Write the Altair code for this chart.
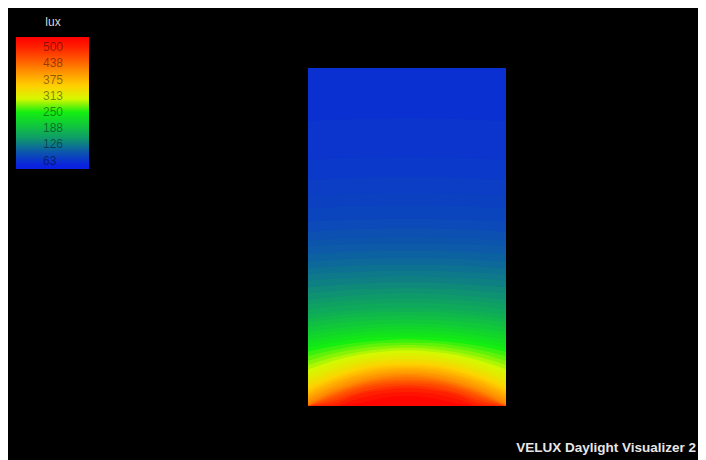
import altair as alt
import pandas as pd

# Isolux contours.
# Floor is 3.0 m wide and 5.1 m deep (0 = back wall at top, 5.1 = window wall at bottom).
contour_x_m = [0.0, 0.375, 0.75, 1.125, 1.5, 1.875, 2.25, 2.625, 3.0]
contour_lux = [60, 64, 68, 72, 76, 80, 85, 90, 95, 100, 106, 112, 118, 124, 130, 137, 144,
               151, 158, 166, 174, 182, 190, 200, 210, 220, 230, 240, 250, 260, 270, 280,
               290, 300, 310, 320, 332, 344, 356, 368, 380, 392, 405, 418, 431, 444, 457,
               470, 485, 500, 515, 530]
# depth (m) of each contour at the x positions above
contour_depth_m = [
    [0.00, 0.00, 0.00, 0.00, 0.00, 0.00, 0.00, 0.00, 0.00],
    [0.80, 0.78, 0.77, 0.76, 0.75, 0.76, 0.77, 0.78, 0.80],
    [1.39, 1.37, 1.35, 1.35, 1.34, 1.35, 1.35, 1.37, 1.39],
    [1.69, 1.67, 1.66, 1.65, 1.64, 1.65, 1.66, 1.67, 1.69],
    [1.93, 1.91, 1.90, 1.89, 1.89, 1.89, 1.90, 1.91, 1.93],
    [2.12, 2.10, 2.09, 2.08, 2.08, 2.08, 2.09, 2.10, 2.12],
    [2.32, 2.30, 2.29, 2.28, 2.28, 2.28, 2.29, 2.30, 2.32],
    [2.47, 2.45, 2.43, 2.42, 2.42, 2.42, 2.43, 2.45, 2.47],
    [2.60, 2.58, 2.57, 2.56, 2.55, 2.56, 2.57, 2.58, 2.60],
    [2.69, 2.67, 2.66, 2.65, 2.65, 2.65, 2.66, 2.67, 2.69],
    [2.81, 2.79, 2.77, 2.76, 2.76, 2.76, 2.77, 2.79, 2.81],
    [2.92, 2.90, 2.88, 2.87, 2.87, 2.87, 2.88, 2.90, 2.92],
    [3.03, 3.00, 2.98, 2.97, 2.97, 2.97, 2.98, 3.00, 3.03],
    [3.12, 3.09, 3.08, 3.06, 3.06, 3.06, 3.08, 3.09, 3.12],
    [3.21, 3.18, 3.16, 3.15, 3.14, 3.15, 3.16, 3.18, 3.21],
    [3.31, 3.28, 3.26, 3.24, 3.24, 3.24, 3.26, 3.28, 3.31],
    [3.40, 3.37, 3.34, 3.33, 3.32, 3.33, 3.34, 3.37, 3.40],
    [3.50, 3.46, 3.43, 3.41, 3.40, 3.41, 3.43, 3.46, 3.50],
    [3.57, 3.53, 3.50, 3.48, 3.48, 3.48, 3.50, 3.53, 3.57],
    [3.65, 3.60, 3.57, 3.55, 3.55, 3.55, 3.57, 3.60, 3.65],
    [3.72, 3.68, 3.65, 3.63, 3.62, 3.63, 3.65, 3.68, 3.72],
    [3.79, 3.74, 3.70, 3.68, 3.68, 3.68, 3.70, 3.74, 3.79],
    [3.84, 3.79, 3.76, 3.74, 3.73, 3.74, 3.76, 3.79, 3.84],
    [3.91, 3.86, 3.82, 3.80, 3.79, 3.80, 3.82, 3.86, 3.91],
    [3.98, 3.93, 3.89, 3.86, 3.85, 3.86, 3.89, 3.93, 3.98],
    [4.04, 3.98, 3.94, 3.91, 3.90, 3.91, 3.94, 3.98, 4.04],
    [4.10, 4.04, 3.99, 3.96, 3.95, 3.96, 3.99, 4.04, 4.10],
    [4.16, 4.09, 4.04, 4.01, 4.00, 4.01, 4.04, 4.09, 4.16],
    [4.22, 4.14, 4.09, 4.06, 4.05, 4.06, 4.09, 4.14, 4.22],
    [4.28, 4.20, 4.14, 4.11, 4.09, 4.11, 4.14, 4.20, 4.28],
    [4.35, 4.26, 4.19, 4.15, 4.14, 4.15, 4.19, 4.26, 4.35],
    [4.42, 4.31, 4.24, 4.20, 4.18, 4.20, 4.24, 4.31, 4.42],
    [4.48, 4.37, 4.29, 4.24, 4.22, 4.24, 4.29, 4.37, 4.48],
    [4.55, 4.42, 4.33, 4.28, 4.26, 4.28, 4.33, 4.42, 4.55],
    [4.61, 4.47, 4.38, 4.32, 4.30, 4.32, 4.38, 4.47, 4.61],
    [4.67, 4.53, 4.42, 4.36, 4.34, 4.36, 4.42, 4.53, 4.67],
    [4.73, 4.58, 4.47, 4.41, 4.39, 4.41, 4.47, 4.58, 4.73],
    [4.79, 4.64, 4.52, 4.45, 4.43, 4.45, 4.52, 4.64, 4.79],
    [4.84, 4.68, 4.56, 4.49, 4.47, 4.49, 4.56, 4.68, 4.84],
    [4.88, 4.71, 4.59, 4.52, 4.50, 4.52, 4.59, 4.71, 4.88],
    [4.92, 4.75, 4.63, 4.55, 4.53, 4.55, 4.63, 4.75, 4.92],
    [4.96, 4.79, 4.66, 4.59, 4.56, 4.59, 4.66, 4.79, 4.96],
    [5.00, 4.83, 4.70, 4.62, 4.60, 4.62, 4.70, 4.83, 5.00],
    [5.05, 4.87, 4.74, 4.66, 4.63, 4.66, 4.74, 4.87, 5.05],
    [5.08, 4.90, 4.77, 4.69, 4.66, 4.69, 4.77, 4.90, 5.08],
    [5.11, 4.93, 4.80, 4.72, 4.70, 4.72, 4.80, 4.93, 5.11],
    [5.14, 4.96, 4.83, 4.75, 4.73, 4.75, 4.83, 4.96, 5.14],
    [5.17, 4.99, 4.86, 4.78, 4.76, 4.78, 4.86, 4.99, 5.17],
    [5.22, 5.03, 4.90, 4.82, 4.79, 4.82, 4.90, 5.03, 5.22],
    [5.25, 5.07, 4.93, 4.86, 4.83, 4.86, 4.93, 5.07, 5.25],
    [5.31, 5.12, 4.99, 4.91, 4.89, 4.91, 4.99, 5.12, 5.31],
    [5.38, 5.19, 5.06, 4.98, 4.95, 4.98, 5.06, 5.19, 5.38],
]
floor_width_m = 3.0
floor_depth_m = 5.1

# Legend tick labels and false-colour palette
legend_ticks = [500, 438, 375, 313, 250, 188, 126, 63]
palette_lux = [32, 50, 100, 150, 200, 250, 300, 350, 400, 450, 500, 538]
palette_colors = ["#0a1ee2", "#0a26dc", "#0c5aa8", "#0f9a6a", "#10c83a", "#14ee10",
                  "#d4f800", "#ffd000", "#ff9800", "#ff5a00", "#ff2000", "#ff0000"]

records = []
for lvl, depths in zip(contour_lux, contour_depth_m):
    for x, d in zip(contour_x_m, depths):
        records.append({"x": x, "depth": d, "front": floor_depth_m, "lux": lvl})
df = pd.DataFrame(records)

color_scale = alt.Scale(domain=palette_lux, range=palette_colors, interpolate="rgb", clamp=True)

chart = alt.Chart(df).mark_area(interpolate="monotone").encode(
    x=alt.X("x:Q", scale=alt.Scale(domain=[0, floor_width_m], nice=False, zero=False), axis=None),
    y=alt.Y("depth:Q", stack=None,
            scale=alt.Scale(domain=[0, floor_depth_m], nice=False, zero=False, reverse=True, clamp=True),
            axis=None),
    y2="front:Q",
    color=alt.Color(
        "lux:Q",
        scale=color_scale,
        legend=alt.Legend(
            type="gradient",
            title="lux",
            orient="none",
            legendX=-292,
            legendY=-51,
            direction="vertical",
            gradientLength=132,
            gradientThickness=73,
            gradientStrokeWidth=0,
            values=legend_ticks,
            labelOffset={"expr": "-46"},
            labelColor="black",
            labelOpacity=0.45,
            labelFontSize=12,
            labelFont="Liberation Sans",
            labelOverlap=False,
            titleColor="#d8d8d8",
            titleFontSize=12,
            titleFontWeight="normal",
            titleFont="Liberation Sans",
            titleAnchor="middle",
            titleAlign="center",
            titlePadding=8,
            padding=0,
        ),
    ),
).properties(
    width=198,
    height=338,
    padding={"left": 300, "top": 60, "right": 192, "bottom": 54},
    autosize=alt.AutoSizeParams(type="none"),
    background="black",
    title=alt.TitleParams(
        "VELUX Daylight Visualizer 2",
        orient="bottom",
        anchor="end",
        frame="group",
        color="#e6e6e6",
        fontSize=13.5,
        fontWeight="bold",
        font="Liberation Sans",
        dx=190,
        offset=35,
    ),
).configure_view(strokeWidth=0)

chart.save("out.html", embed_options={"renderer": "svg", "actions": False})
